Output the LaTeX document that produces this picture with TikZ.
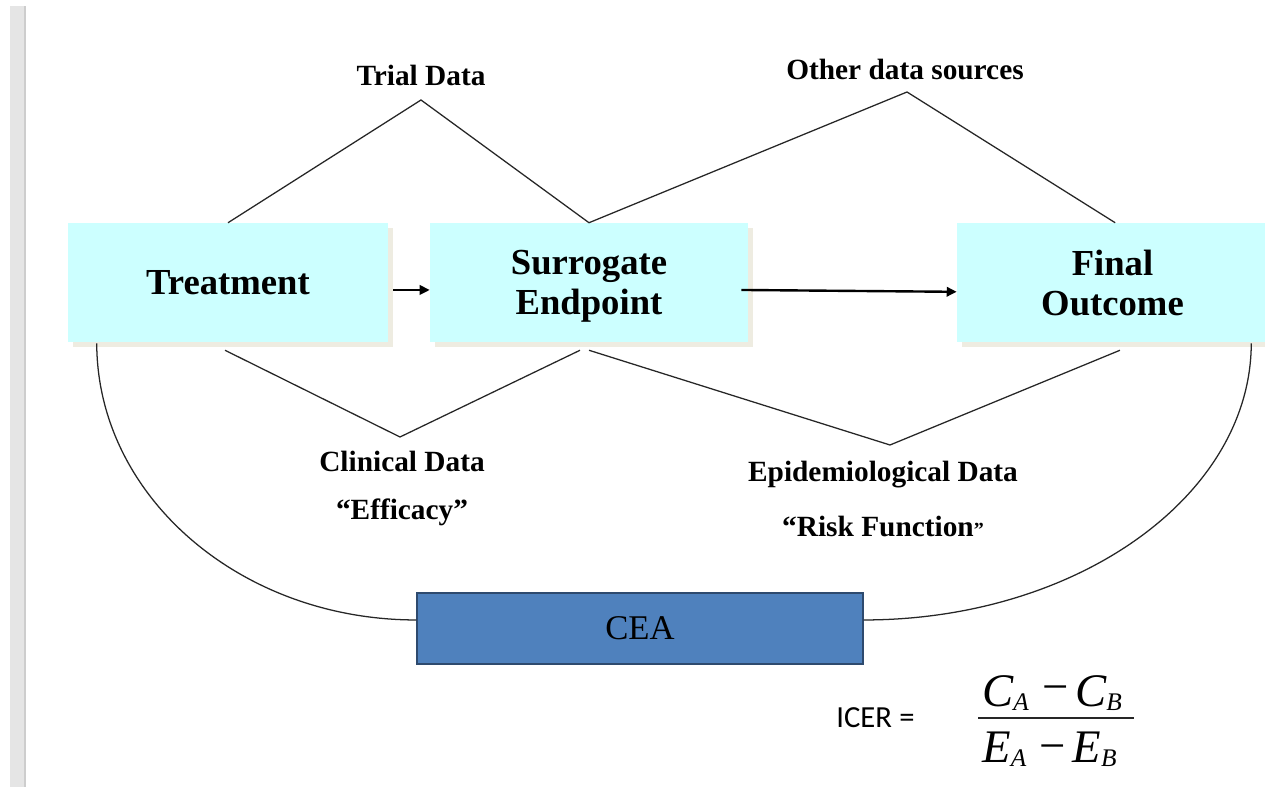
\documentclass[tikz,border=0pt]{standalone}
\usepackage{fontspec}
\setmainfont{Liberation Serif}
\newfontfamily\calibrifont{Carlito}
\usetikzlibrary{arrows.meta,shadows}
\definecolor{boxcyan}{HTML}{CCFFFF}
\definecolor{boxshade}{HTML}{EEECE1}
\definecolor{ceablue}{HTML}{4F81BD}
\definecolor{ceaedge}{HTML}{2E4A6E}
\definecolor{sidebar}{HTML}{E5E5E5}
\definecolor{sideedge}{HTML}{CDCDCD}
\newcommand{\subsc}[1]{\raisebox{-2.5pt}{\fontsize{19}{19}\selectfont #1}}

\begin{document}
\begin{tikzpicture}[x=0.75pt,y=-0.75pt,
  stagebox/.style={fill=boxcyan, inner sep=0pt, minimum height=89.25pt, align=center,
    text depth=0pt, font=\fontsize{27.5}{30}\selectfont\bfseries,
    drop shadow={shadow xshift=3.75pt, shadow yshift=-3.75pt, fill=boxshade, opacity=1}},
  datalabel/.style={anchor=base, inner sep=0pt, font=\fontsize{22}{24}\selectfont\bfseries},
  link/.style={line width=0.95pt, draw=black!85},
  flow/.style={line width=1.8pt, -{Triangle[length=7.5pt,width=7pt]}},
  mathpart/.style={anchor=base west, inner sep=0pt, font=\fontsize{35}{36}\selectfont\itshape},
  sanslabel/.style={anchor=base west, inner sep=0pt, font=\calibrifont\fontsize{23}{24}\selectfont},
]
% page and side bar
\fill[white] (0,0) rectangle (1265,787);
\fill[sidebar] (10,6) rectangle (24,787);
\fill[sideedge] (24,6) rectangle (26,787);
\useasboundingbox (0,0) rectangle (1265,787);

% stages
\node[stagebox, minimum width=240pt]   (treat) at (228,282.5)  {Treatment};
\node[stagebox, minimum width=238.5pt] (surr)  at (589,282.5)  {Surrogate\\Endpoint};
\node[stagebox, minimum width=233.25pt](final) at (1112.5,282.5) {Final\\Outcome};
\node[draw=ceaedge, line width=1pt, fill=ceablue, minimum width=334.5pt, minimum height=53.25pt,
      inner sep=0pt, font=\fontsize{26}{28}\selectfont] (cea) at (640,628.5) {CEA};

% data source labels
\node[datalabel] (trial) at (421,86)  {Trial Data};
\node[datalabel] (other) at (905,80)  {Other data sources};
\node[datalabel] (clin)  at (402,472) {Clinical Data};
\node[datalabel] (eff)   at (402,520) {“Efficacy”};
\node[datalabel] (epi)   at (883,482) {Epidemiological Data};
\node[datalabel] (risk)  at (883,537) {“Risk Function{\fontsize{15}{15}\selectfont ”}};

% apexes of the data links
\coordinate (trialpk) at (421,100);
\coordinate (otherpk) at (907,92);
\coordinate (clinpk)  at (400,437);
\coordinate (epipk)   at (890,445);

% data links
\draw[link] (treat.north) -- (trialpk) -- (surr.north) -- (otherpk) -- ([xshift=2pt]final.north);
\draw[link] ([shift={(-2.25pt,-6pt)}]treat.south) -- (clinpk) -- ([shift={(-6.75pt,-6pt)}]surr.south);
\draw[link] ([yshift=-6pt]surr.south) -- (epipk) -- ([shift={(5.6pt,-6pt)}]final.south);

% arcs into the CEA box
\draw[link] ([shift={(21.75pt,-0.75pt)}]treat.south west) .. controls (97,496) and (240,620) .. ([yshift=6.4pt]cea.west);
\draw[link] ([yshift=6.4pt]cea.east) .. controls (1077,620) and (1251,496) .. ([shift={(-12.75pt,-0.75pt)}]final.south east);

% causal arrows
\draw[flow] ([shift={(3.75pt,-5.6pt)}]treat.east) -- ([yshift=-5.6pt]surr.west);
\draw[flow] ([shift={(-5.25pt,-5.6pt)}]surr.east) -- ([yshift=-7pt]final.west);

% ICER formula
\node[sanslabel] (icer) at (836,728) {ICER};
\node[sanslabel] (eq)   at (899,728) {=};
\node[mathpart] (num) at (982,707) {C\subsc{A}\hspace{10pt}\raisebox{3.5pt}{\upshape −}\hspace{5pt}C\subsc{B}};
\node[mathpart] (den) at (982,763) {E\subsc{A}\hspace{10pt}\raisebox{1pt}{\upshape −}\hspace{5pt}E\subsc{B}};
\coordinate (barL) at (978,718);
\coordinate (barR) at (1134,718);
\draw[line width=1.1pt, draw=black!85] (barL) -- (barR);
\end{tikzpicture}
\end{document}
